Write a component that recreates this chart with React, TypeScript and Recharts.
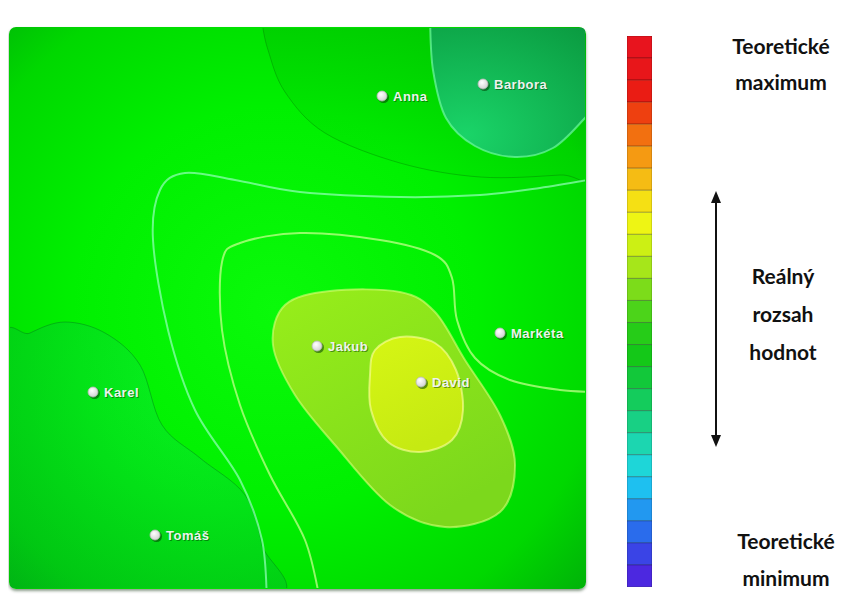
import React from 'react';
import { Bar, BarChart, Cell, Scatter, ScatterChart, XAxis, YAxis } from 'recharts';

type Pt = { x: number; y: number };

// measured sites (map units, 0..115 x 0..112)
const people = [
  { name: 'Anna', x: 74.4, y: 98.4 },
  { name: 'Barbora', x: 94.6, y: 100.8 },
  { name: 'Jakub', x: 61.4, y: 48.4 },
  { name: 'Markéta', x: 98, y: 51 },
  { name: 'David', x: 82.2, y: 41.2 },
  { name: 'Karel', x: 16.6, y: 39.2 },
  { name: 'Tomáš', x: 29, y: 10.6 }
];

// contour zones / isolines
const topZone: Pt[] = [
  { x: 50.4, y: 113.2 }, { x: 51.6, y: 107.6 }, { x: 55, y: 99.2 }, { x: 63, y: 91 },
  { x: 78, y: 85 }, { x: 94, y: 82.2 }, { x: 110, y: 82.6 }, { x: 118, y: 83.6 },
  { x: 118, y: 114.6 }, { x: 50.4, y: 114.6 }
];
const barboraZone: Pt[] = [
  { x: 84, y: 113.6 }, { x: 84.6, y: 103.6 }, { x: 87.2, y: 94 }, { x: 93, y: 88.4 },
  { x: 101, y: 86.2 }, { x: 108.6, y: 88 }, { x: 115, y: 94 }, { x: 118, y: 97.6 },
  { x: 118, y: 114.6 }, { x: 84, y: 114.6 }
];
const karelZone: Pt[] = [
  { x: -2, y: 47.2 }, { x: 4, y: 51 }, { x: 11, y: 53.2 }, { x: 19, y: 51 }, { x: 26, y: 44.6 },
  { x: 30.4, y: 32.6 }, { x: 38, y: 26 }, { x: 47, y: 18.6 }, { x: 50.4, y: 8.6 },
  { x: 51.6, y: -2.4 }, { x: -2, y: -2.4 }
];
const isoline1: Pt[] = [
  { x: 51.4, y: -2.4 }, { x: 50.4, y: 9.6 }, { x: 46, y: 21.6 }, { x: 37, y: 35.6 },
  { x: 31.6, y: 51.6 }, { x: 28.6, y: 69.6 }, { x: 30, y: 79.6 }, { x: 35, y: 83 },
  { x: 45, y: 81.6 }, { x: 58, y: 79.2 }, { x: 78, y: 78.2 }, { x: 94, y: 78.6 },
  { x: 106, y: 80 }, { x: 118, y: 82 }
];
const isoline2: Pt[] = [
  { x: 62, y: -2.4 }, { x: 59, y: 9.6 }, { x: 52, y: 22.6 }, { x: 46, y: 36.6 },
  { x: 42.4, y: 51.6 }, { x: 42.4, y: 65.2 }, { x: 46, y: 69 }, { x: 58, y: 71 },
  { x: 74, y: 69.6 }, { x: 85, y: 66.6 }, { x: 88.4, y: 62 }, { x: 89.4, y: 53.6 },
  { x: 93, y: 46 }, { x: 100, y: 41.6 }, { x: 110, y: 39.6 }, { x: 118, y: 39.2 }
];
const jakubZone: Pt[] = [
  { x: 55, y: 56.6 }, { x: 64, y: 59.4 }, { x: 78, y: 59.2 }, { x: 85, y: 55.2 },
  { x: 91, y: 45.6 }, { x: 98, y: 34.6 }, { x: 101, y: 24.6 }, { x: 98, y: 15.2 },
  { x: 87, y: 12.2 }, { x: 76, y: 16.6 }, { x: 65, y: 28.6 }, { x: 57, y: 38.6 },
  { x: 52.6, y: 48.6 }
];
const davidZone: Pt[] = [
  { x: 73, y: 47.6 }, { x: 78, y: 50.2 }, { x: 85, y: 49 }, { x: 89.2, y: 43.6 },
  { x: 90.6, y: 35.6 }, { x: 88.4, y: 29.6 }, { x: 82, y: 27.2 }, { x: 75.6, y: 29.2 },
  { x: 72.2, y: 35.6 }, { x: 72, y: 42.6 }
];

// colour scale, top (max) to bottom (min)
const scaleColors = [
  '#e8141e', '#e8161a', '#ea1c14', '#ee4010', '#f27010', '#f59a12', '#f5bc14', '#f5e014',
  '#eef514', '#ccf014', '#a6e61a', '#7cdc1a', '#4cd41a', '#26cc18', '#14c818', '#12c83a',
  '#14cc5c', '#18d084', '#1cd6b0', '#1ed6d8', '#1ec0f0', '#2298f0', '#2a6cec', '#3a44e6',
  '#4c28e0'
];
const scaleData = scaleColors.map((c, i) => ({ k: i, v: 1 }));

const maxLabel = ['Teoretické', 'maximum'];
const rangeLabel = ['Reálný', 'rozsah', 'hodnot'];
const minLabel = ['Teoretické', 'minimum'];

function smooth(pts: Pt[], closed: boolean) {
  const n = pts.length;
  if (!n) return '';
  const get = (i: number) => (closed ? pts[(i + n) % n] : pts[Math.max(0, Math.min(n - 1, i))]);
  let d = `M${pts[0].x},${pts[0].y}`;
  const segs = closed ? n : n - 1;
  for (let i = 0; i < segs; i++) {
    const p0 = get(i - 1), p1 = get(i), p2 = get(i + 1), p3 = get(i + 2);
    const c1x = p1.x + (p2.x - p0.x) / 6, c1y = p1.y + (p2.y - p0.y) / 6;
    const c2x = p2.x - (p3.x - p1.x) / 6, c2y = p2.y - (p3.y - p1.y) / 6;
    d += ` C${c1x},${c1y} ${c2x},${c2y} ${p2.x},${p2.y}`;
  }
  return closed ? d + ' Z' : d;
}

const noDot = () => <g />;

const zoneLine = (closed: boolean, style: React.SVGProps<SVGPathElement>) => (p: any) => (
  <path d={smooth(p.points, closed)} {...style} />
);

const SiteDot = (p: any) => {
  const { cx, cy, payload } = p;
  return (
    <g>
      <circle cx={cx + 1.5} cy={cy + 1.5} r={5.5} fill="rgba(0,60,0,0.55)" />
      <circle cx={cx} cy={cy} r={5} fill="url(#gDot)" stroke="#b8b8b8" strokeWidth={0.8} />
      <text x={cx + 12} y={cy + 5.5} fontSize={13} fontWeight="bold" letterSpacing={0.5}
        fontFamily="'Liberation Sans', Arial, sans-serif" fill="rgba(0,60,0,0.5)">{payload.name}</text>
      <text x={cx + 11} y={cy + 4.5} fontSize={13} fontWeight="bold" letterSpacing={0.5}
        fontFamily="'Liberation Sans', Arial, sans-serif" fill="#eef2ee">{payload.name}</text>
    </g>
  );
};

export default function App() {
  const txt = { fontFamily: 'Lato, sans-serif', fontWeight: 700, fontSize: 21, fill: '#111' } as const;
  return (
    <div style={{ position: 'relative', width: 848, height: 596 }}>
      <div
        style={{
          position: 'absolute', left: 1, top: 19, width: 577, height: 562, borderRadius: 7,
          overflow: 'hidden', boxShadow: '0 2px 3px rgba(0,40,0,0.45)',
          background: 'radial-gradient(ellipse 78% 80% at 46% 50%, #0afa0a 0%, #00f000 45%, #00d800 75%, #00a40c 100%)'
        }}
      >
        <div style={{ position: 'absolute', left: 1, top: 1 }}>
          <ScatterChart width={575} height={560} margin={{ top: 0, right: 0, bottom: 0, left: 0 }}>
            <defs>
              <linearGradient id="gTop" x1="0" y1="0" x2="0" y2="1">
                <stop offset="0%" stopColor="#007a00" stopOpacity={0.18} />
                <stop offset="100%" stopColor="#007a00" stopOpacity={0.03} />
              </linearGradient>
              <radialGradient id="gBarbora" cx="25%" cy="85%" r="95%">
                <stop offset="0%" stopColor="#1ad468" />
                <stop offset="100%" stopColor="#0a9a40" />
              </radialGradient>
              <radialGradient id="gKarel" cx="75%" cy="20%" r="95%">
                <stop offset="0%" stopColor="#10f050" stopOpacity={0.35} />
                <stop offset="100%" stopColor="#009a30" stopOpacity={0.35} />
              </radialGradient>
              <linearGradient id="gJakub" x1="0" y1="0" x2="0.6" y2="1">
                <stop offset="0%" stopColor="#98ee1a" />
                <stop offset="100%" stopColor="#7cd81c" />
              </linearGradient>
              <linearGradient id="gDavid" x1="0" y1="0" x2="0.4" y2="1">
                <stop offset="0%" stopColor="#d6f614" />
                <stop offset="100%" stopColor="#c6ea12" />
              </linearGradient>
              <radialGradient id="gDot" cx="40%" cy="35%" r="70%">
                <stop offset="0%" stopColor="#ffffff" />
                <stop offset="100%" stopColor="#d0d0d0" />
              </radialGradient>
            </defs>
            <XAxis type="number" dataKey="x" domain={[0, 115]} hide allowDataOverflow />
            <YAxis type="number" dataKey="y" domain={[0, 112]} hide allowDataOverflow />
            <Scatter data={topZone} isAnimationActive={false} shape={noDot}
              line={zoneLine(true, { fill: 'url(#gTop)', stroke: 'rgba(0,90,0,0.3)', strokeWidth: 1 })} />
            <Scatter data={barboraZone} isAnimationActive={false} shape={noDot}
              line={zoneLine(true, { fill: 'url(#gBarbora)', stroke: 'rgba(110,250,160,0.7)', strokeWidth: 2 })} />
            <Scatter data={karelZone} isAnimationActive={false} shape={noDot}
              line={zoneLine(true, { fill: 'url(#gKarel)', stroke: 'rgba(0,90,30,0.35)', strokeWidth: 1 })} />
            <Scatter data={isoline1} isAnimationActive={false} shape={noDot}
              line={zoneLine(false, { fill: 'none', stroke: 'rgba(150,255,190,0.7)', strokeWidth: 2 })} />
            <Scatter data={isoline2} isAnimationActive={false} shape={noDot}
              line={zoneLine(false, { fill: 'none', stroke: 'rgba(195,255,140,0.75)', strokeWidth: 2 })} />
            <Scatter data={jakubZone} isAnimationActive={false} shape={noDot}
              line={zoneLine(true, { fill: 'url(#gJakub)', stroke: 'rgba(215,255,120,0.6)', strokeWidth: 2 })} />
            <Scatter data={davidZone} isAnimationActive={false} shape={noDot}
              line={zoneLine(true, { fill: 'url(#gDavid)', stroke: 'rgba(255,255,160,0.6)', strokeWidth: 2 })} />
            <Scatter data={people} isAnimationActive={false} shape={SiteDot} />
          </ScatterChart>
        </div>
      </div>

      <div style={{ position: 'absolute', left: 619, top: 28 }}>
        <BarChart width={25} height={551} data={scaleData} layout="vertical" barCategoryGap={0}
          margin={{ top: 0, right: 0, bottom: 0, left: 0 }}>
          <XAxis type="number" domain={[0, 1]} hide />
          <YAxis type="category" dataKey="k" hide />
          <Bar dataKey="v" isAnimationActive={false} stroke="rgba(0,0,0,0.25)" strokeWidth={1}>
            {scaleData.map((d) => (
              <Cell key={d.k} fill={scaleColors[d.k]} />
            ))}
          </Bar>
        </BarChart>
      </div>

      <svg width={848} height={596} style={{ position: 'absolute', left: 0, top: 0, pointerEvents: 'none' }}>
        <g transform="translate(-8,-8)">
          {maxLabel.map((t, i) => (
            <text key={'a' + i} x={781} y={54 + i * 36} textAnchor="middle" {...txt}>{t}</text>
          ))}
          {rangeLabel.map((t, i) => (
            <text key={'b' + i} x={783} y={284 + i * 38} textAnchor="middle" {...txt}>{t}</text>
          ))}
          {minLabel.map((t, i) => (
            <text key={'c' + i} x={786} y={549 + i * 37} textAnchor="middle" {...txt}>{t}</text>
          ))}
          <line x1={716} y1={200} x2={716} y2={438} stroke="#111" strokeWidth={2} />
          <path d="M716,191 L711,203 L721,203 Z" fill="#111" />
          <path d="M716,447 L711,435 L721,435 Z" fill="#111" />
        </g>
      </svg>
    </div>
  );
}
